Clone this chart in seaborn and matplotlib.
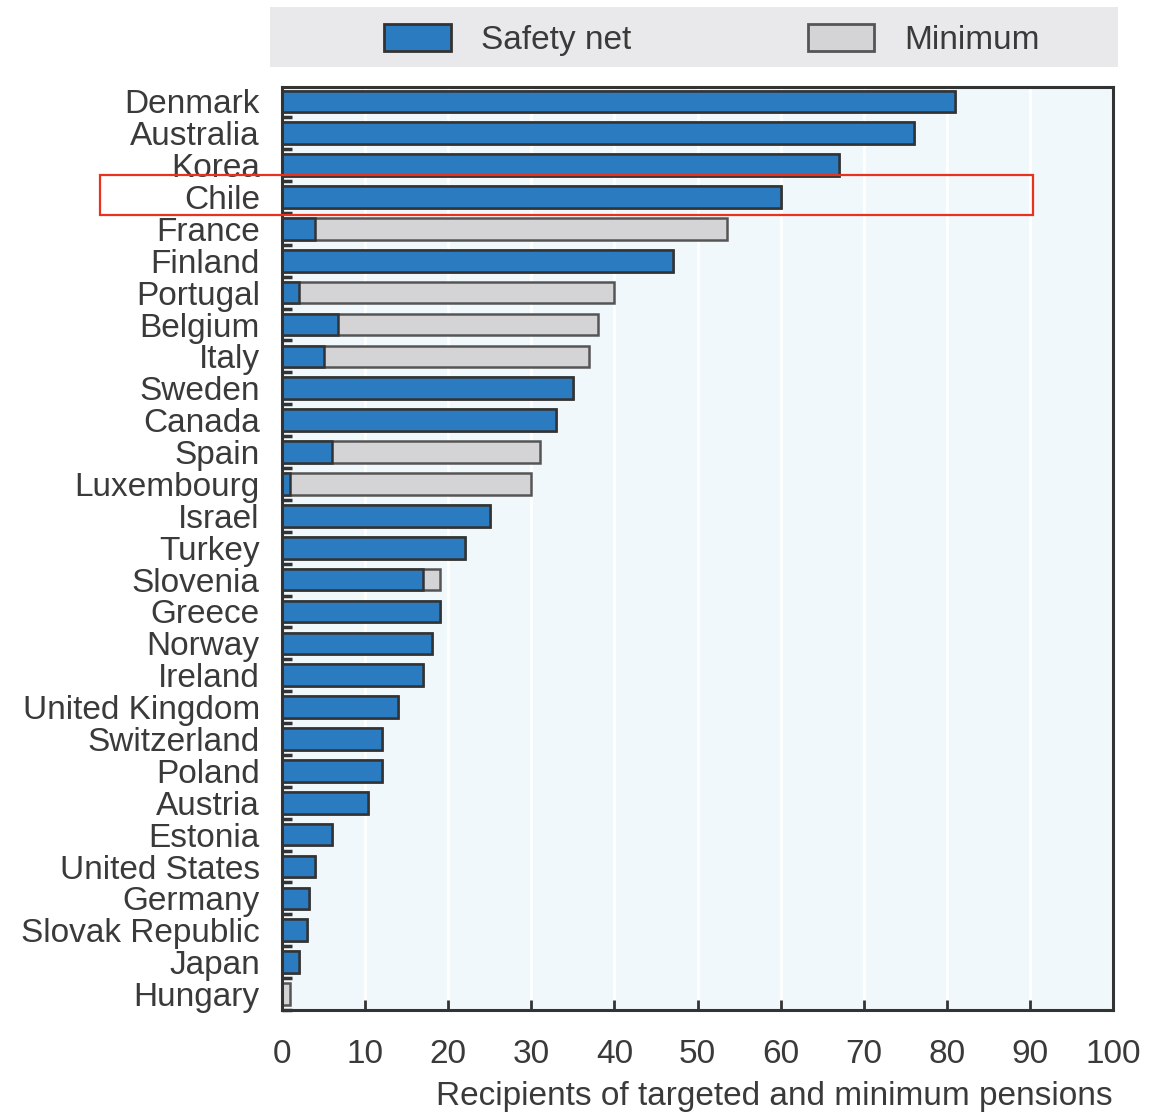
import matplotlib
matplotlib.use("Agg")
import matplotlib.pyplot as plt
import matplotlib.patches as mpatches
import seaborn as sns
import pandas as pd
import numpy as np

countries = ["Denmark", "Australia", "Korea", "Chile", "France", "Finland", "Portugal",
             "Belgium", "Italy", "Sweden", "Canada", "Spain", "Luxembourg", "Israel",
             "Turkey", "Slovenia", "Greece", "Norway", "Ireland", "United Kingdom",
             "Switzerland", "Poland", "Austria", "Estonia", "United States", "Germany",
             "Slovak Republic", "Japan", "Hungary"]
safety_net = [81, 76, 67, 60, 4, 47, 2, 6.7, 5, 35, 33, 6, 1, 25,
              22, 17, 19, 18, 17, 14, 12, 12, 10.3, 6, 4, 3.2, 3, 2, 0]
minimum = [0, 0, 0, 0, 49.5, 0, 38, 31.3, 32, 0, 0, 25, 29, 0,
           0, 2, 0, 0, 0, 0, 0, 0, 0, 0, 0, 0, 0, 0, 1]
xticks = [0, 10, 20, 30, 40, 50, 60, 70, 80, 90, 100]

df = pd.DataFrame({"country": countries, "safety": safety_net, "minimum": minimum})
df["total"] = df["safety"] + df["minimum"]

sns.set_theme(style="white")
plt.rcParams["font.family"] = ["Liberation Sans", "DejaVu Sans"]
txt = "#3a3a3a"
fs = 24

fig = plt.figure(figsize=(11.65, 11.13), dpi=100)
ax = fig.add_axes([282/1165, 1 - 1010/1113, (1113-282)/1165, (1010-87)/1113])
ax.set_facecolor("#f1f8fc")

blue = "#2b7bc1"
grey = "#d4d4d6"
sns.barplot(data=df, y="country", x="total", orient="h", color=grey, width=0.68,
            edgecolor="#555555", linewidth=1.8, ax=ax, saturation=1)
sns.barplot(data=df, y="country", x="safety", orient="h", color=blue, width=0.68,
            edgecolor="#333333", linewidth=1.8, ax=ax, saturation=1)

ax.set_xlim(0, 100)
n = len(countries)
ax.set_ylim(n - 1 + 0.45, -0.45)
ax.set_xticks(xticks)
ax.set_xticklabels([str(v) for v in xticks], fontsize=fs, color=txt)
ax.tick_params(axis="x", direction="in", length=7, width=2, color="#333333", pad=21, bottom=True)
ax.tick_params(axis="y", which="major", length=0, labelsize=fs, labelcolor=txt, pad=16)
ax.set_yticks(np.arange(n) + 0.5, minor=True)
ax.tick_params(axis="y", which="minor", direction="in", length=7, width=2.5, color="#333333", left=True)
ax.grid(axis="x", color="white", linewidth=2)
ax.set_axisbelow(True)
for s in ax.spines.values():
    s.set_visible(True)
    s.set_color("#333333")
    s.set_linewidth(2.2)
ax.set_ylabel("")
ax.set_xlabel("Recipients of targeted and minimum pensions", fontsize=fs, color=txt)
ax.xaxis.set_label_coords(1.0, -0.077)
ax.xaxis.label.set_horizontalalignment("right")

# legend band
fig.patches.append(mpatches.Rectangle((270/1165, 1 - 67/1113), (1118-270)/1165, 60/1113,
                                      transform=fig.transFigure, facecolor="#e9e9eb",
                                      edgecolor="none", zorder=0))
handles = [mpatches.Patch(facecolor=blue, edgecolor="#333333", linewidth=2, label="Safety net"),
           mpatches.Patch(facecolor=grey, edgecolor="#555555", linewidth=2, label="Minimum")]
leg = fig.legend(handles=handles, loc="center", bbox_to_anchor=(712/1165, 1 - 40/1113),
                 ncol=2, frameon=False, fontsize=fs, handlelength=2.0, handleheight=0.85,
                 handletextpad=0.9, columnspacing=5.3, labelcolor=txt)

# red highlight box around Chile
fig.patches.append(mpatches.Rectangle((100/1165, 1 - 215/1113), (1033-100)/1165, 40/1113,
                                      transform=fig.transFigure, facecolor="none",
                                      edgecolor="#e8321e", linewidth=1.6, zorder=10))

fig.savefig("out.png", dpi=100)
